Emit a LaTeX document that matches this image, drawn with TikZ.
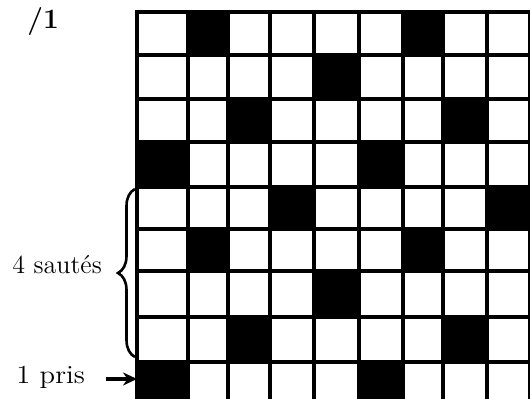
\documentclass[tikz,border=0pt]{standalone}
\usetikzlibrary{decorations.pathreplacing,arrows.meta}
\begin{document}
\begin{tikzpicture}[x=0.5pt,y=-0.5pt,
  gridline/.style={line width=2.2pt},
  blackcell/.style={fill=black},
  lbl/.style={font=\fontsize{13}{15}\selectfont, inner sep=0pt, anchor=base west},
  bracestyle/.style={decorate, decoration={brace, amplitude=8.5pt, aspect=0.5}, line width=1.3pt},
  arrowstyle/.style={-{Stealth[length=7pt,width=6.5pt]}, line width=1.8pt}]
\useasboundingbox (0,0) rectangle (530,399);
\begin{scope}
\clip (0,0) rectangle (530,399);
\def\xs{{137,188,228,270,314,359,403,443,487,530,574}}
\def\ys{{12,55,99,142,187,229,271,317,362,406}}
\foreach \r in {0,...,8} {
  \foreach \c in {0,...,9} {
    \pgfmathtruncatemacro\m{mod(1+3*\r,5)}
    \pgfmathtruncatemacro\mm{mod(\c,5)}
    \ifnum\m=\mm
      \pgfmathsetmacro\xa{\xs[\c]}
      \pgfmathsetmacro\xb{\xs[\c+1]}
      \pgfmathsetmacro\ya{\ys[\r]}
      \pgfmathsetmacro\yb{\ys[\r+1]}
      \fill[blackcell] (\xa,\ya) rectangle (\xb,\yb);
    \fi
  }
}
\foreach \i in {0,...,9} {
  \pgfmathsetmacro\xa{\xs[\i]}
  \draw[gridline] (\xa,10) -- (\xa,410);
}
\foreach \j in {0,...,9} {
  \pgfmathsetmacro\ya{\ys[\j]}
  \draw[gridline] (135,\ya) -- (540,\ya);
}
\end{scope}
\node[lbl, font=\fontsize{14}{16}\selectfont\bfseries] (num) at (27,29) {/1};
\node[lbl] (sautes) at (12,274) {4 sautés};
\node[lbl] (pris) at (16,384) {\scalebox{1.1}[1]{1 pris}};
\coordinate (braceBottom) at (135,357);
\coordinate (braceTop) at (135,189);
\coordinate (arrowStart) at (106,379);
\coordinate (arrowEnd) at (137,379);
\draw[bracestyle] (braceBottom) -- (braceTop);
\draw[arrowstyle] (arrowStart) -- (arrowEnd);
\end{tikzpicture}
\end{document}
